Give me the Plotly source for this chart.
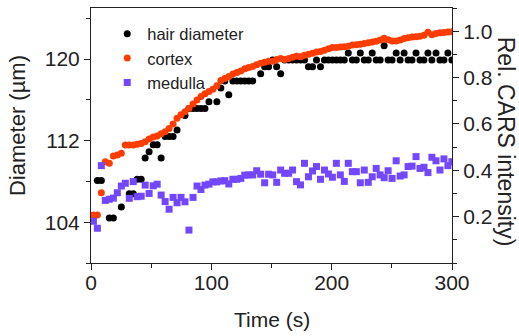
import plotly.graph_objects as go

time_s = [2.0, 5.3, 8.6, 11.9, 15.2, 18.6, 21.9, 25.2, 28.5, 31.8,
          35.1, 38.4, 41.7, 45.0, 48.3, 51.7, 55.0, 58.3, 61.6, 64.9,
          68.2, 71.5, 74.8, 78.1, 81.4, 84.8, 88.1, 91.4, 94.7, 98.0,
          101.3, 104.6, 107.9, 111.2, 114.5, 117.9, 121.2, 124.5, 127.8, 131.1,
          134.4, 137.7, 141.0, 144.3, 147.6, 151.0, 154.3, 157.6, 160.9, 164.2,
          167.5, 170.8, 174.1, 177.4, 180.7, 184.1, 187.4, 190.7, 194.0, 197.3,
          200.6, 203.9, 207.2, 210.5, 213.8, 217.2, 220.5, 223.8, 227.1, 230.4,
          233.7, 237.0, 240.3, 243.6, 246.9, 250.2, 253.6, 256.9, 260.2, 263.5,
          266.8, 270.1, 273.4, 276.7, 280.0, 283.3, 286.7, 290.0, 293.3, 296.6, 299.9]

diameter_um = [None, 108.1, 108.1, None, 104.4, 104.4, None, 105.5, None, 106.8,
               106.8, 108.2, 108.2, 110.3, 110.9, 111.6, 111.6, 110.3, 112.4, 112.4,
               112.4, 113.05, None, 114.45, 115.15, 115.15, 115.15, 115.15, 115.15, 115.8,
               None, 115.8, 117.15, 117.85, 116.5, 117.85, 117.85, 117.85, 117.85, 117.85,
               117.85, None, 118.55, 119.25, 119.25, 119.9, 119.25, 118.55, 119.9, 119.9,
               119.9, 119.9, 119.9, 119.9, 119.25, 119.25, 119.9, 119.25, 119.9, 119.9,
               119.9, 119.9, 119.9, 119.9, 120.6, 119.9, 119.9, 120.6, 119.9, 119.9,
               120.6, 119.9, 119.9, 121.3, 119.9, 119.9, 120.6, 119.9, 120.6, 119.9,
               119.9, 120.6, 119.9, 119.9, 120.6, 119.9, 120.6, 119.9, 119.9, 120.6, 119.9]

cortex_rel = [0.207, 0.207, 0.303, 0.437, 0.43, 0.462, 0.466, 0.473, 0.509, 0.509,
              0.509, 0.512, 0.516, 0.523, 0.535, 0.543, 0.548, 0.558, 0.566, 0.58,
              0.60, 0.624, 0.64, 0.652, 0.668, 0.686, 0.703, 0.718, 0.73, 0.74,
              0.75, 0.765, 0.787, 0.796, 0.805, 0.815, 0.822, 0.828, 0.838, 0.843,
              0.848, 0.855, 0.862, 0.866, 0.87, 0.87, 0.878, 0.882, 0.878, 0.882,
              0.888, 0.892, 0.89, 0.896, 0.9, 0.905, 0.91, 0.912, 0.918, 0.924,
              0.93, 0.93, 0.932, 0.933, 0.935, 0.94, 0.942, 0.944, 0.947, 0.95,
              0.953, 0.957, 0.962, 0.969, 0.963, 0.958, 0.958, 0.962, 0.968, 0.972,
              0.975, 0.976, 0.978, 0.982, 0.995, 0.985, 0.99, 0.993, 0.994, 0.996, 0.998]

medulla_rel = [0.18, 0.15, 0.42, 0.27, 0.275, 0.28, 0.303, 0.332, 0.344, 0.279,
               0.351, 0.286, 0.288, 0.336, 0.30, 0.333, 0.34, 0.293, 0.265, 0.232,
               0.283, 0.26, 0.283, 0.264, 0.142, 0.283, 0.332, 0.317, 0.336, 0.34,
               0.35, 0.35, 0.354, 0.355, 0.341, 0.361, 0.361, 0.365, 0.379, 0.38,
               0.38, 0.398, 0.383, 0.346, 0.383, 0.38, 0.348, 0.401, 0.387, 0.387,
               0.401, 0.351, 0.337, 0.43, 0.372, 0.397, 0.416, 0.361, 0.401, 0.384,
               0.37, 0.43, 0.38, 0.352, 0.43, 0.394, 0.394, 0.346, 0.401, 0.348,
               0.372, 0.408, 0.38, 0.368, 0.398, 0.365, 0.441, 0.375, 0.38, 0.416,
               0.418, 0.459, 0.408, 0.413, 0.39, 0.456, 0.441, 0.401, 0.449, 0.42, 0.437]

x_ticks = [0, 100, 200, 300]
left_ticks = [104, 112, 120]
right_ticks = [0.2, 0.4, 0.6, 0.8, 1.0]
right_labels = ["0.2", "0.4", "0.6", "0.8", "1.0"]

FONT = "Liberation Sans, Arial, sans-serif"
TXT = "#222222"

fig = go.Figure()
fig.add_trace(go.Scatter(x=time_s, y=diameter_um, mode="markers", name="hair diameter",
                         marker=dict(color="#000000", size=7, symbol="circle"),
                         yaxis="y"))
fig.add_trace(go.Scatter(x=time_s, y=cortex_rel, mode="markers", name="cortex",
                         marker=dict(color="#FF3D00", size=7, symbol="circle"),
                         yaxis="y2"))
fig.add_trace(go.Scatter(x=time_s, y=medulla_rel, mode="markers", name="medulla",
                         marker=dict(color="#7247FF", size=7, symbol="square"),
                         yaxis="y2"))

axis_common = dict(showline=True, linecolor="#222222", linewidth=1, showgrid=False,
                   zeroline=False, ticks="outside", ticklen=6, tickcolor="#222222",
                   tickfont=dict(family=FONT, size=21, color=TXT))

fig.update_layout(
    width=519, height=336,
    margin=dict(l=91, r=67, t=8, b=73),
    paper_bgcolor="white", plot_bgcolor="white",
    font=dict(family=FONT, color=TXT),
    xaxis=dict(range=[0, 300], tickvals=x_ticks, mirror=True, ticklabelstandoff=-5,
               minor=dict(dtick=50, tick0=0, ticks="outside", ticklen=4, tickcolor="#222222"),
               **axis_common),
    yaxis=dict(range=[100, 125], tickvals=left_ticks,
               minor=dict(dtick=4, tick0=100, ticks="outside", ticklen=4, tickcolor="#222222"),
               **axis_common),
    yaxis2=dict(range=[0, 1.1], overlaying="y", side="right", tickvals=right_ticks,
                ticktext=right_labels,
                minor=dict(dtick=0.1, tick0=0, ticks="outside", ticklen=4, tickcolor="#222222"),
                **axis_common),
    legend=dict(x=0.045, y=0.967, xanchor="left", yanchor="top", bgcolor="rgba(0,0,0,0)",
                font=dict(family=FONT, size=16.5, color=TXT), itemwidth=30,
                tracegroupgap=0),
    showlegend=True,
)

fig.add_annotation(text="Time (s)", xref="paper", yref="paper", x=0.5, y=-0.2235,
                   showarrow=False, font=dict(family=FONT, size=21, color=TXT),
                   xanchor="center", yanchor="middle")
fig.add_annotation(text="Diameter (µm)", xref="paper", yref="paper", x=-0.205, y=0.541,
                   showarrow=False, textangle=-90, font=dict(family=FONT, size=22, color=TXT),
                   xanchor="center", yanchor="middle")
fig.add_annotation(text="Rel. CARS intensity)", xref="paper", yref="paper", x=1.152, y=0.476,
                   showarrow=False, textangle=90, font=dict(family=FONT, size=23, color=TXT),
                   xanchor="center", yanchor="middle")

fig.write_html("out.html", config={"displayModeBar": False},
               post_script="document.body.style.margin='0';document.body.style.padding='0';")
